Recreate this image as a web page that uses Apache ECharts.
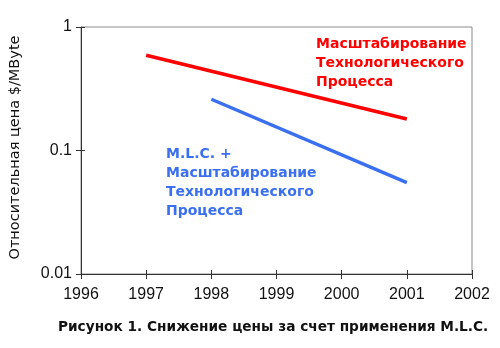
<!DOCTYPE html>
<html><head><meta charset="utf-8">
<script src="https://cdn.jsdelivr.net/npm/echarts@6/dist/echarts.min.js"></script>
<style>html,body{margin:0;padding:0;background:#fff}#c{width:500px;height:348px}</style>
</head><body><div id="c"></div>
<script>
var years = [1996, 1997, 1998, 1999, 2000, 2001, 2002];
var scalingYears = [1997, 2001];
var scalingValues = [0.59, 0.18];
var mlcYears = [1998, 2001];
var mlcValues = [0.26, 0.055];
var yTicks = [0.01, 0.1, 1];
var yTitle = 'Относительная цена $/MByte';
var caption = 'Рисунок 1. Снижение цены за счет применения M.L.C.';
var redLabel = 'Масштабирование\nТехнологического\nПроцесса';
var blueLabel = 'M.L.C. +\nМасштабирование\nТехнологического\nПроцесса';

function pairs(xs, ys){ return xs.map(function(x,i){return [x, ys[i]];}); }

var chart = echarts.init(document.getElementById('c'), null, {renderer:'canvas'});
var annoFont = {fontFamily:'"DejaVu Sans", sans-serif', fontWeight:'bold', fontSize:14, lineHeight:19};
var labelFont = {color:'#111', fontSize:16, fontFamily:'Arial, "Liberation Sans", sans-serif'};
var tickStyle = {color:'#333', width:1};
chart.setOption({
  animation:false,
  backgroundColor:'#fff',
  grid:{left:79, right:28, top:27, bottom:74, show:true, borderColor:'#8a8a8a', borderWidth:1},
  xAxis:[
    {type:'value', min:years[0], max:years[years.length-1], interval:1,
      axisLine:{lineStyle:{color:'#333', width:1}},
      axisTick:{show:true, length:5, lineStyle:tickStyle},
      splitLine:{show:false},
      axisLabel:Object.assign({margin:13, formatter:function(v){return String(v);}}, labelFont)
    },
    {type:'value', position:'bottom', min:years[0], max:years[years.length-1], interval:1,
      axisLine:{show:false}, axisTick:{show:true, inside:true, length:4, lineStyle:tickStyle},
      axisLabel:{show:false}, splitLine:{show:false}}
  ],
  yAxis:[
    {type:'log', logBase:10, min:yTicks[0], max:yTicks[yTicks.length-1],
      name:yTitle, nameLocation:'middle', nameGap:58, nameRotate:90,
      nameTextStyle:{color:'#111', fontSize:14.5, fontFamily:'"DejaVu Sans", sans-serif', padding:[0,0,0,6]},
      axisLine:{show:true, lineStyle:{color:'#333', width:1}},
      axisTick:{show:true, length:5, lineStyle:tickStyle},
      splitLine:{show:false},
      axisLabel:Object.assign({margin:9, formatter:function(v){return String(+v.toPrecision(2));}}, labelFont)
    },
    {type:'log', logBase:10, position:'left', min:yTicks[0], max:yTicks[yTicks.length-1],
      axisLine:{show:false}, axisTick:{show:true, inside:true, length:4, lineStyle:tickStyle},
      axisLabel:{show:false}, splitLine:{show:false}}
  ],
  series:[
    {type:'line', data:pairs(scalingYears, scalingValues), symbol:'none', lineStyle:{color:'#ff0000', width:3.5}},
    {type:'line', data:pairs(mlcYears, mlcValues), symbol:'none', lineStyle:{color:'#3a6ff0', width:3.5}}
  ],
  graphic:[
    {type:'text', left:316, top:35, style:Object.assign({text:redLabel, fill:'#ff0000'}, annoFont)},
    {type:'text', left:166, top:145, style:Object.assign({text:blueLabel, fill:'#3a6ff0'}, annoFont)},
    {type:'text', left:58, top:320, style:{text:caption, fill:'#111', fontSize:13.7, fontWeight:'bold', fontFamily:'"DejaVu Sans", sans-serif'}}
  ]
});
</script></body></html>
